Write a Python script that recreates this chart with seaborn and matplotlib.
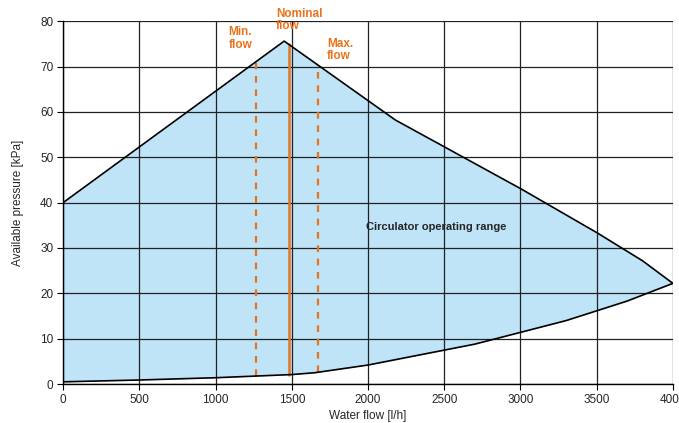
import numpy as np
import pandas as pd
import matplotlib
matplotlib.use('Agg')
import matplotlib.pyplot as plt
import seaborn as sns

sns.set_style('white')
plt.rcParams['font.family'] = ['Liberation Sans', 'DejaVu Sans']

# Upper limit of the circulator (max head curve)
upper_flow = [0, 1450, 2180, 3000, 3500, 3800, 4000]
upper_kpa = [40.0, 75.6, 58.2, 43.1, 33.4, 27.2, 22.2]

# Lower limit (min head curve)
lower_flow = [0, 500, 1000, 1500, 1650, 2000, 2700, 3300, 3700, 4000]
lower_kpa = [0.5, 0.9, 1.4, 2.1, 2.5, 4.2, 8.8, 14.0, 18.3, 22.2]

# Flow markers
marker_names = ['Min.\nflow', 'Nominal\nflow', 'Max.\nflow']
marker_flow = [1265, 1480, 1672]
marker_style = ['--', '-', '--']

orange = '#e8731e'
blue = '#bfe4f8'

fig, ax = plt.subplots(figsize=(6.79, 4.23), dpi=100)
fig.subplots_adjust(left=0.093, right=0.991, bottom=0.092, top=0.950)

# common grid for shading
grid_x = np.union1d(upper_flow, lower_flow)
up_i = np.interp(grid_x, upper_flow, upper_kpa)
lo_i = np.interp(grid_x, lower_flow, lower_kpa)
ax.fill_between(grid_x, lo_i, up_i, color=blue, lw=0, zorder=1)

# grid
for gx in range(0, 4001, 500):
    ax.axvline(gx, color='#222222', lw=0.9, zorder=2)
for gy in range(0, 81, 10):
    ax.axhline(gy, color='#222222', lw=0.9, zorder=2)

sns.lineplot(x=upper_flow, y=upper_kpa, color='black', lw=1.2, ax=ax, zorder=4)
sns.lineplot(x=lower_flow, y=lower_kpa, color='black', lw=1.2, ax=ax, zorder=4)

for name, fx, ls in zip(marker_names, marker_flow, marker_style):
    y0 = np.interp(fx, lower_flow, lower_kpa)
    y1 = np.interp(fx, upper_flow, upper_kpa)
    ax.plot([fx, fx], [y0, y1], color=orange, ls=ls, lw=1.8 if ls == '-' else 1.6,
            dashes=(3, 3) if ls == '--' else (None, None), zorder=3)

label_kw = dict(color=orange, fontsize=8.5, fontweight='bold', ha='left',
                va='bottom', linespacing=1.05, clip_on=False)
ax.text(1085, 73.5, marker_names[0], **label_kw)
ax.text(1395, 77.5, marker_names[1], **label_kw)
ax.text(1730, 70.9, marker_names[2], **label_kw)

ax.text(2450, 34.7, 'Circulator operating range', fontsize=8, fontweight='bold',
        ha='center', va='center')

ax.set_xlim(0, 4000)
ax.set_ylim(0, 80)
ax.set_xticks(range(0, 4001, 500))
ax.set_yticks(range(0, 81, 10))
ax.tick_params(axis='both', labelsize=8.5, length=4, width=0.8, color='black',
               direction='out', left=True, bottom=True, pad=3)
for s in ['top', 'right']:
    ax.spines[s].set_visible(False)
for s in ['left', 'bottom']:
    ax.spines[s].set_color('black')
    ax.spines[s].set_linewidth(1.0)

ax.set_xlabel('Water flow [l/h]', fontsize=8.5, labelpad=3)
ax.set_ylabel('Available pressure [kPa]', fontsize=8.5, labelpad=12)

plt.savefig('out.png', dpi=100)
